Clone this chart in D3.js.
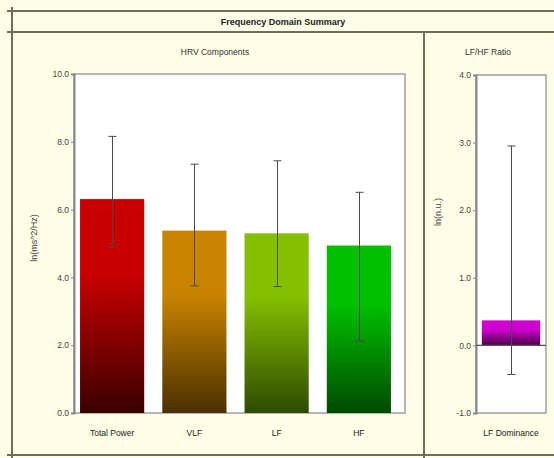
<!DOCTYPE html>
<html><head><meta charset="utf-8">
<script src="https://cdn.jsdelivr.net/npm/d3@7/dist/d3.min.js"></script>
<style>html,body{margin:0;padding:0;background:#fffde6;}svg{display:block;font-family:"Liberation Sans",Arial,sans-serif;}</style>
</head><body><div id="c"></div>
<script>
const categories = ["Total Power", "VLF", "LF", "HF"];
const values = [6.31, 5.38, 5.30, 4.94];
const errLow = [4.93, 3.75, 3.73, 2.12];
const errHigh = [8.16, 7.34, 7.44, 6.51];
const colorTop = ["#c80000", "#c88400", "#84c000", "#00c000"];
const colorBottom = ["#3a0000", "#4a3000", "#2e4a00", "#004a00"];
const leftTicks = [0, 2, 4, 6, 8, 10];

const ratioCategories = ["LF Dominance"];
const ratioValues = [0.37];
const ratioLow = [-0.43];
const ratioHigh = [2.95];
const rightTicks = [-1, 0, 1, 2, 3, 4];

const W = 554, H = 458;
const svg = d3.select("#c").append("svg").attr("width", W).attr("height", H);
svg.append("rect").attr("width", W).attr("height", H).attr("fill", "#fffde6");

const defs = svg.append("defs");
function grad(id, top, bot) {
  const g = defs.append("linearGradient").attr("id", id).attr("x1", 0).attr("y1", 0).attr("x2", 0).attr("y2", 1);
  g.append("stop").attr("offset", "0%").attr("stop-color", top);
  g.append("stop").attr("offset", "35%").attr("stop-color", top);
  g.append("stop").attr("offset", "100%").attr("stop-color", bot);
}
categories.forEach((c, i) => grad("g" + i, colorTop[i], colorBottom[i]));
grad("gr", "#d000d0", "#4a004a");

// frame lines
const lc = "#6e6e60";
const fr = svg.append("g").attr("stroke", lc).attr("stroke-width", 2);
fr.append("line").attr("x1", 7).attr("x2", W).attr("y1", 11).attr("y2", 11);
fr.append("line").attr("x1", 7).attr("x2", W).attr("y1", 32).attr("y2", 32);
fr.append("line").attr("x1", 7).attr("x2", W).attr("y1", 455).attr("y2", 455);
fr.append("line").attr("x1", 12).attr("x2", 12).attr("y1", 7).attr("y2", 458);
fr.append("line").attr("x1", 424).attr("x2", 424).attr("y1", 32).attr("y2", 458);

svg.append("text").attr("x", 283).attr("y", 25).attr("text-anchor", "middle")
  .attr("font-size", 9).attr("font-weight", "bold").attr("fill", "#222").text("Frequency Domain Summary");
svg.append("text").attr("x", 215).attr("y", 55).attr("text-anchor", "middle")
  .attr("font-size", 8.5).attr("fill", "#333").text("HRV Components");
svg.append("text").attr("x", 488).attr("y", 55).attr("text-anchor", "middle")
  .attr("font-size", 8.5).attr("fill", "#333").text("LF/HF Ratio");

const fmt = d => d3.format(".1f")(d).replace("\u2212", "-");

function panel(opts) {
  const {x0, x1, y0, y1, dom, ticks, cats, vals, lo, hi, range, padIn, padOut, fills, ylabel, ylx, zeroLine} = opts;
  const y = d3.scaleLinear().domain(dom).range([y1, y0]);
  const x = d3.scaleBand().domain(cats).range(range).paddingInner(padIn).paddingOuter(padOut);
  const g = svg.append("g");
  g.append("rect").attr("x", x0).attr("y", y0).attr("width", x1 - x0).attr("height", y1 - y0)
    .attr("fill", "#ffffff").attr("stroke", "#a0a0a0").attr("stroke-width", 1.5);
  const ax = g.append("g").attr("transform", `translate(${x0},0)`)
    .call(d3.axisLeft(y).tickValues(ticks).tickSize(3).tickPadding(2).tickFormat(fmt));
  ax.select(".domain").attr("stroke", "#888").attr("stroke-width", 2);
  ax.selectAll(".tick line").attr("stroke", "#888");
  ax.selectAll("text").attr("font-size", 8.5).attr("fill", "#444").attr("font-family", "Liberation Sans, Arial, sans-serif");
  g.selectAll(".bar").data(cats).enter().append("rect")
    .attr("x", d => x(d)).attr("width", x.bandwidth())
    .attr("y", (d, i) => y(Math.max(0, vals[i])))
    .attr("height", (d, i) => Math.abs(y(vals[i]) - y(0)))
    .attr("fill", (d, i) => fills[i]);
  if (zeroLine) {
    g.append("line").attr("x1", x0).attr("x2", x1).attr("y1", y(0)).attr("y2", y(0))
      .attr("stroke", "#555").attr("stroke-width", 1.2);
  }
  const eb = g.append("g").attr("stroke", "#4a4a4a").attr("stroke-width", 1);
  cats.forEach((c, i) => {
    const cx = Math.round(x(c) + x.bandwidth() / 2) + 0.5;
    eb.append("line").attr("x1", cx).attr("x2", cx).attr("y1", y(hi[i])).attr("y2", y(lo[i]));
    eb.append("line").attr("x1", cx - 4).attr("x2", cx + 4).attr("y1", y(hi[i])).attr("y2", y(hi[i]));
    eb.append("line").attr("x1", cx - 4).attr("x2", cx + 4).attr("y1", y(lo[i])).attr("y2", y(lo[i]));
  });
  g.selectAll(".cl").data(cats).enter().append("text")
    .attr("x", d => x(d) + x.bandwidth() / 2).attr("y", y1 + 23).attr("text-anchor", "middle")
    .attr("font-size", 8.5).attr("fill", "#222").text(d => d);
  const my = (y0 + y1) / 2;
  g.append("text").attr("transform", `translate(${ylx},${opts.ylabelY || my}) rotate(-90)`)
    .attr("text-anchor", "middle").attr("font-size", 9).attr("fill", "#444").text(ylabel);
}

panel({x0: 74, x1: 405, y0: 74, y1: 413, dom: [0, 10], ticks: leftTicks, cats: categories, vals: values,
  lo: errLow, hi: errHigh, range: [71, 400], padIn: 0.22, padOut: 0.11,
  fills: categories.map((c, i) => `url(#g${i})`), ylabel: "ln(ms^2/Hz)", ylx: 37, ylabelY: 238});

panel({x0: 476, x1: 546, y0: 75, y1: 413, dom: [-1, 4], ticks: rightTicks, cats: ratioCategories, vals: ratioValues,
  lo: ratioLow, hi: ratioHigh, range: [476, 546], padIn: 0.1, padOut: 0.09,
  fills: ["url(#gr)"], ylabel: "ln(n.u.)", ylx: 441, ylabelY: 212, zeroLine: true});
</script></body></html>
